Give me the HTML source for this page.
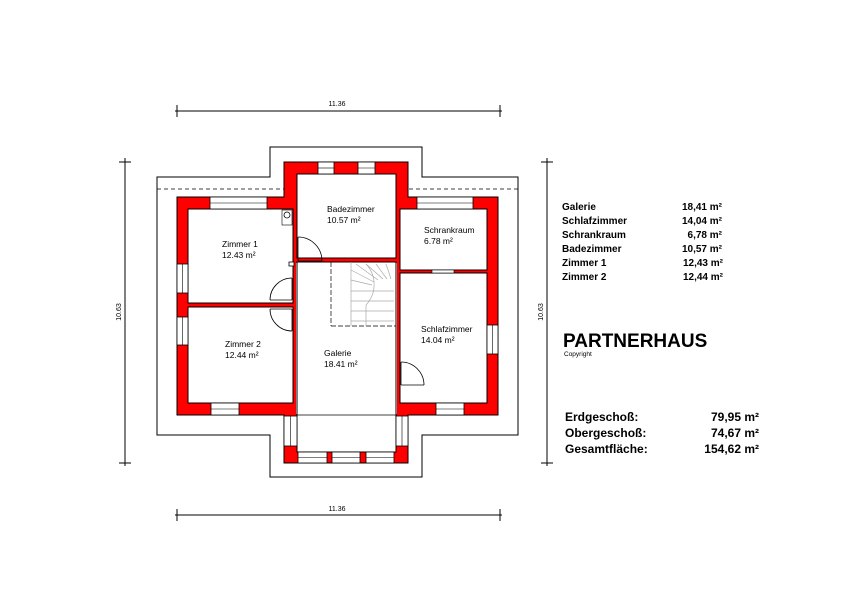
<!DOCTYPE html>
<html><head><meta charset="utf-8"><style>
html,body{margin:0;padding:0;background:#fff;width:842px;height:595px;overflow:hidden}
svg{display:block}
text{font-family:"Liberation Sans",sans-serif}
</style></head><body>
<svg width="842" height="595" viewBox="0 0 842 595" xmlns="http://www.w3.org/2000/svg">
<!-- dimension lines -->
<g stroke="#000" stroke-width="1" fill="none">
<line x1="175" y1="111" x2="502" y2="111"/>
<line x1="177" y1="105" x2="177" y2="117"/><line x1="500" y1="105" x2="500" y2="117"/>
<line x1="175" y1="515" x2="502" y2="515"/>
<line x1="177" y1="509" x2="177" y2="521"/><line x1="500" y1="509" x2="500" y2="521"/>
<line x1="125" y1="158" x2="125" y2="466"/>
<line x1="119" y1="162" x2="131" y2="162"/><line x1="119" y1="463" x2="131" y2="463"/>
<line x1="547" y1="158" x2="547" y2="466"/>
<line x1="541" y1="162" x2="553" y2="162"/><line x1="541" y1="463" x2="553" y2="463"/>
<!-- roof outline -->
<polyline points="157,189 157,177 270,177 270,147 422,147 422,177 518,177 518,189"/>
<polyline points="157,189 157,435 270,435 270,477 422,477 422,435 518,435 518,189"/>
</g>
<line x1="157" y1="189" x2="518" y2="189" stroke="#000" stroke-width="0.8" stroke-dasharray="4,3"/>
<text x="337" y="106" font-size="7" text-anchor="middle">11.36</text>
<text x="337" y="511" font-size="7" text-anchor="middle">11.36</text>
<text x="0" y="0" font-size="7" text-anchor="middle" transform="translate(121,312) rotate(-90)">10.63</text>
<text x="0" y="0" font-size="7" text-anchor="middle" transform="translate(543,312) rotate(-90)">10.63</text>
<!-- walls -->
<polygon points="177,197 284,197 284,162 408,162 408,197 498,197 498,415 408,415 408,463 284,463 284,415 177,415" fill="#ff0000" stroke="#000" stroke-width="1"/>
<g fill="#fff" stroke="#000" stroke-width="1">
<rect x="188" y="209" width="105" height="94"/>
<rect x="188" y="307" width="105" height="96"/>
<rect x="297" y="174" width="99" height="84"/>
<rect x="297" y="262" width="99" height="190"/>
<rect x="400" y="209" width="87" height="61"/>
<rect x="400" y="273" width="87" height="130"/>
</g>
<rect x="296" y="263" width="101" height="151" fill="#fff"/>
<line x1="297" y1="415" x2="396" y2="415" stroke="#000" stroke-width="0.8"/>
<line x1="297" y1="262" x2="297" y2="415" stroke="#000"/>
<line x1="396" y1="262" x2="396" y2="415" stroke="#000"/>
<!-- windows -->
<g fill="#fff" stroke="#000" stroke-width="0.8">
<rect x="210" y="197" width="57" height="12"/>
<rect x="318" y="162" width="16" height="12"/>
<rect x="358" y="162" width="17" height="12"/>
<rect x="417" y="197" width="56" height="12"/>
<rect x="177" y="264" width="11" height="29"/>
<rect x="177" y="317" width="11" height="28"/>
<rect x="487" y="325" width="11" height="29"/>
<rect x="211" y="403" width="28" height="12"/>
<rect x="436" y="403" width="28" height="12"/>
<rect x="284" y="416" width="13" height="30"/>
<rect x="396" y="416" width="12" height="30"/>
<rect x="298" y="452" width="29" height="11"/>
<rect x="332" y="452" width="28" height="11"/>
<rect x="366" y="452" width="28" height="11"/>
<rect x="289" y="262" width="5" height="4"/>
</g>
<g stroke="#000" stroke-width="0.6">
<line x1="210" y1="203" x2="267" y2="203"/><line x1="318" y1="168" x2="334" y2="168"/><line x1="358" y1="168" x2="375" y2="168"/>
<line x1="417" y1="203" x2="473" y2="203"/><line x1="182.5" y1="264" x2="182.5" y2="293"/><line x1="182.5" y1="317" x2="182.5" y2="345"/>
<line x1="492.5" y1="325" x2="492.5" y2="354"/><line x1="211" y1="409" x2="239" y2="409"/><line x1="436" y1="409" x2="464" y2="409"/>
<line x1="290.5" y1="416" x2="290.5" y2="446"/><line x1="402" y1="416" x2="402" y2="446"/>
<line x1="298" y1="457.5" x2="327" y2="457.5"/><line x1="332" y1="457.5" x2="360" y2="457.5"/><line x1="366" y1="457.5" x2="394" y2="457.5"/>
</g>
<!-- schrank door opening -->
<rect x="432" y="270" width="22" height="3" fill="#fff" stroke="#000" stroke-width="0.6"/>
<!-- doors -->
<g fill="none" stroke="#000" stroke-width="0.8">
<path d="M298,237 A24,24 0 0 1 322,261"/><line x1="298" y1="237" x2="298" y2="261"/><line x1="298" y1="261" x2="322" y2="261"/>
<path d="M292,278 A22,22 0 0 0 270,300"/><line x1="292" y1="278" x2="292" y2="300"/><line x1="270" y1="300" x2="292" y2="300"/>
<path d="M270,309 A22,22 0 0 0 292,331"/><line x1="292" y1="309" x2="292" y2="331"/><line x1="270" y1="309" x2="292" y2="309"/>
<path d="M401,362 A23,23 0 0 1 424,385"/><line x1="401" y1="362" x2="401" y2="385"/><line x1="401" y1="385" x2="424" y2="385"/>
</g>
<!-- WC symbol -->
<rect x="282" y="210" width="10" height="15" fill="#fff" stroke="#000" stroke-width="0.6"/>
<circle cx="287" cy="215" r="3" fill="none" stroke="#000" stroke-width="0.8"/>
<!-- stairs -->
<g stroke="#aaa" stroke-width="0.7" fill="none">
<line x1="331" y1="326" x2="396" y2="326" stroke="#000" stroke-dasharray="5,2"/>
<line x1="331" y1="262" x2="331" y2="326" stroke="#000" stroke-dasharray="5,2"/>
<path d="M366,264 A30,30 0 0 1 366,305"/>
<path d="M351,291 L394,291"/><path d="M351,301 L394,301"/><path d="M351,311 L394,311"/><path d="M351,321 L394,321"/>
<path d="M351,280 L372,285"/><path d="M351,270 L374,282"/><path d="M356,264 L378,280"/><path d="M366,264 L383,279"/>
<path d="M376,264 L387,279"/><path d="M386,264 L391,279"/>
<line x1="366" y1="305" x2="366" y2="326"/>
<line x1="351" y1="262" x2="351" y2="326"/>
</g>
<!-- room labels -->
<g font-size="8.5" fill="#000">
<text x="222" y="247">Zimmer 1</text><text x="222" y="258">12.43 m²</text>
<text x="327" y="212">Badezimmer</text><text x="327" y="223">10.57 m²</text>
<text x="424" y="233">Schrankraum</text><text x="424" y="244">6.78 m²</text>
<text x="225" y="347">Zimmer 2</text><text x="225" y="358">12.44 m²</text>
<text x="324" y="356">Galerie</text><text x="324" y="367">18.41 m²</text>
<text x="421" y="332">Schlafzimmer</text><text x="421" y="343">14.04 m²</text>
</g>
<!-- legend -->
<g font-size="10" font-weight="bold">
<text x="562" y="210">Galerie</text><text x="722" y="210" text-anchor="end">18,41 m²</text>
<text x="562" y="224">Schlafzimmer</text><text x="722" y="224" text-anchor="end">14,04 m²</text>
<text x="562" y="238">Schrankraum</text><text x="722" y="238" text-anchor="end">6,78 m²</text>
<text x="562" y="252">Badezimmer</text><text x="722" y="252" text-anchor="end">10,57 m²</text>
<text x="562" y="266">Zimmer 1</text><text x="723" y="266" text-anchor="end">12,43 m²</text>
<text x="562" y="280">Zimmer 2</text><text x="723" y="280" text-anchor="end">12,44 m²</text>
</g>
<text x="563" y="347" font-size="19" font-weight="bold">PARTNERHAUS</text>
<text x="564" y="356" font-size="6.5">Copyright</text>
<g font-size="12" font-weight="bold">
<text x="565" y="421">Erdgeschoß:</text><text x="759" y="421" text-anchor="end">79,95 m²</text>
<text x="565" y="437">Obergeschoß:</text><text x="759" y="437" text-anchor="end">74,67 m²</text>
<text x="565" y="453">Gesamtfläche:</text><text x="759" y="453" text-anchor="end">154,62 m²</text>
</g>
</svg>
</body></html>
